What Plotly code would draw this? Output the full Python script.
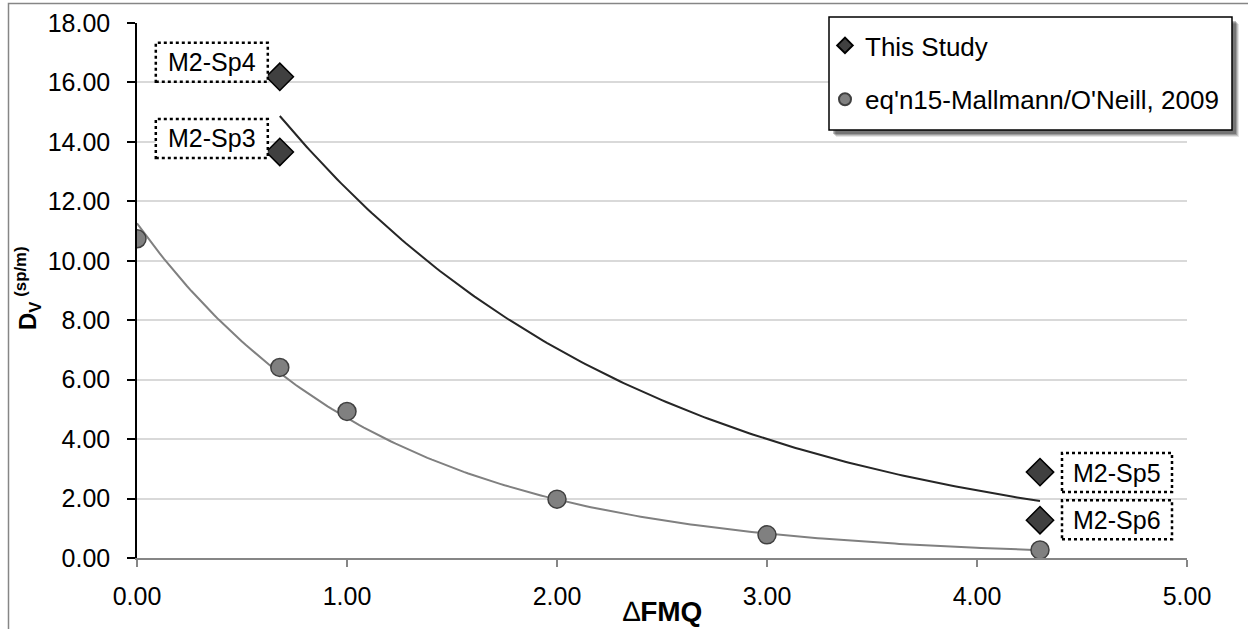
import numpy as np
import plotly.graph_objects as go

# ---- data ----
study_dfmq = [0.68, 0.68, 4.30, 4.30]
study_dv = [16.19, 13.66, 2.89, 1.27]
study_labels = ["M2-Sp4", "M2-Sp3", "M2-Sp5", "M2-Sp6"]

eqn15_dfmq = [0.00, 0.68, 1.00, 2.00, 3.00, 4.30]
eqn15_dv = [10.74, 6.41, 4.93, 1.98, 0.78, 0.27]

y_ticks = [0, 2, 4, 6, 8, 10, 12, 14, 16, 18]
x_ticks = [0, 1, 2, 3, 4, 5]

FONT = "Liberation Sans"


def exp_trend(x, y, n=200):
    """Least-squares exponential trendline y = a*exp(b*x) over the data's x span."""
    x = np.asarray(x, float)
    b, ln_a = np.polyfit(x, np.log(np.asarray(y, float)), 1)
    xs = np.linspace(x.min(), x.max(), n)
    return xs, np.exp(ln_a) * np.exp(b * xs)


fig = go.Figure()

tx, ty = exp_trend(study_dfmq, study_dv)
fig.add_trace(go.Scatter(x=tx, y=ty, mode="lines", line=dict(color="#262626", width=2),
                         showlegend=False, hoverinfo="skip"))
gx, gy = exp_trend(eqn15_dfmq, eqn15_dv)
fig.add_trace(go.Scatter(x=gx, y=gy, mode="lines", line=dict(color="#808080", width=2),
                         showlegend=False, hoverinfo="skip"))

fig.add_trace(go.Scatter(
    x=study_dfmq, y=study_dv, mode="markers", name="This Study", legendgroup="a",
    marker=dict(symbol="diamond", size=21, color="#404040", line=dict(color="#000000", width=1.5)),
))
fig.add_trace(go.Scatter(
    x=eqn15_dfmq, y=eqn15_dv, mode="markers", name="eq'n15-Mallmann/O'Neill, 2009", legendgroup="b",
    marker=dict(symbol="circle", size=18, color="#808080", line=dict(color="#404040", width=1.5)),
))

# label boxes (pixel offsets relative to each point): x0, x1, y0, y1
label_box = {
    "M2-Sp4": (-124, -12, -5, 34),
    "M2-Sp3": (-124, -12, -6, 33),
    "M2-Sp5": (22, 132, -20, 19),
    "M2-Sp6": (22, 132, -19, 20),
}

shapes = []
annotations = []
for px, py, lab in zip(study_dfmq, study_dv, study_labels):
    x0, x1, y0, y1 = label_box[lab]
    shapes.append(dict(type="rect", xref="x", yref="y", xsizemode="pixel", ysizemode="pixel",
                       xanchor=px, yanchor=py, x0=x0, x1=x1, y0=y0, y1=y1,
                       line=dict(color="#000000", width=2.5, dash="dot"), fillcolor="white", layer="above"))
    annotations.append(dict(x=px, y=py, xref="x", yref="y", text=lab, showarrow=False,
                            xshift=(x0 + x1) / 2, yshift=(y0 + y1) / 2,
                            xanchor="center", yanchor="middle",
                            font=dict(family=FONT, size=25, color="#000000")))

# plot area: 137..1187 px horizontally, 23..558 px vertically
PL, PR, PT, PB = 137, 1187, 23, 558


def px2paper_x(p):
    return (p - PL) / (PR - PL)


def px2paper_y(p):
    return (PB - p) / (PB - PT)


# legend frame with soft shadow
for off, alpha in [(7, 0.10), (6, 0.15), (5, 0.2), (4, 0.25)]:
    shapes.append(dict(type="rect", xref="paper", yref="paper",
                       x0=px2paper_x(829 + off), x1=px2paper_x(1232 + off),
                       y0=px2paper_y(130 + off), y1=px2paper_y(17 + off),
                       line=dict(width=0), fillcolor=f"rgba(0,0,0,{alpha})", layer="above"))
shapes.append(dict(type="rect", xref="paper", yref="paper",
                   x0=px2paper_x(829), x1=px2paper_x(1232), y0=px2paper_y(130), y1=px2paper_y(17),
                   line=dict(color="#000000", width=1.5), fillcolor="white", layer="above"))

# outer chart frame
shapes.append(dict(type="rect", xref="paper", yref="paper",
                   x0=px2paper_x(8.5), x1=px2paper_x(1252), y0=px2paper_y(640), y1=px2paper_y(3.5),
                   line=dict(color="#868686", width=1.5), fillcolor="rgba(0,0,0,0)", layer="below"))

# axis titles
annotations.append(dict(x=0.5, y=px2paper_y(611), xref="paper", yref="paper", showarrow=False,
                        text="∆<b>FMQ</b>", xanchor="center", yanchor="middle",
                        font=dict(family=FONT, size=28, color="#000000")))
annotations.append(dict(x=px2paper_x(28), y=px2paper_y(288), xref="paper", yref="paper", showarrow=False,
                        text="<b>D<sub>V</sub><sup> (sp/m)</sup></b>", textangle=-90,
                        xanchor="center", yanchor="middle",
                        font=dict(family=FONT, size=24, color="#000000")))

fig.update_layout(
    width=1248, height=629,
    margin=dict(l=PL, r=1248 - PR, t=PT, b=629 - PB, autoexpand=False),
    paper_bgcolor="white", plot_bgcolor="white",
    font=dict(family=FONT, size=25, color="#000000"),
    shapes=shapes, annotations=annotations,
    showlegend=True,
    legend=dict(x=px2paper_x(825), y=px2paper_y(22), xanchor="left", yanchor="top",
                bgcolor="rgba(0,0,0,0)", borderwidth=0, tracegroupgap=17, traceorder="grouped",
                font=dict(family=FONT, size=26, color="#000000"), itemsizing="constant"),
)

fig.update_xaxes(range=[0, 5], tickvals=x_ticks, ticktext=[f"{v:.2f}" for v in x_ticks],
                 showgrid=False, zeroline=False, showline=True, linecolor="#868686", linewidth=1.5,
                 ticks="outside", ticklen=7, tickwidth=1.5, tickcolor="#868686",
                 ticklabelstandoff=8, tickfont=dict(family=FONT, size=25, color="#000000"))
fig.update_yaxes(range=[0, 18], tickvals=y_ticks, ticktext=[f"{v:.2f}" for v in y_ticks],
                 showgrid=True, gridcolor="#d9d9d9", gridwidth=1.5, zeroline=False,
                 showline=True, linecolor="#000000", linewidth=1.5,
                 ticks="outside", ticklen=8, tickwidth=1.5, tickcolor="#000000",
                 ticklabelstandoff=12, tickfont=dict(family=FONT, size=25, color="#000000"))

fig.write_html("out.html")
